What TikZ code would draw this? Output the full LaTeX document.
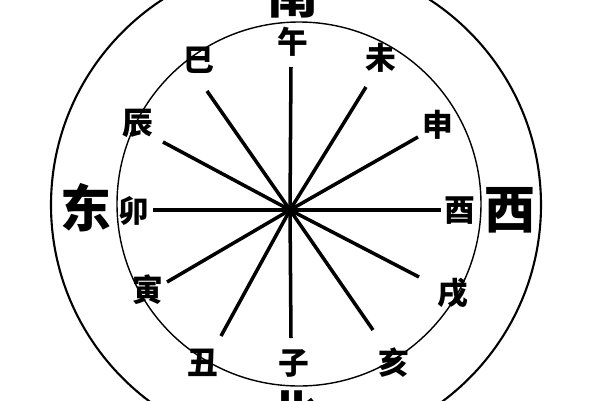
\documentclass[tikz,border=0pt]{standalone}
\usepackage{fontspec}
\newfontfamily\cjk{Noto Sans CJK SC}
\tikzset{
  branch/.style={font=\cjk\bfseries\fontsize{17.5}{17.5}\selectfont, inner sep=0pt},
  compass/.style={font=\cjk\bfseries\fontsize{29}{29}\selectfont, inner sep=0pt},
  spoke/.style={line width=2pt}
}
\begin{document}
\begin{tikzpicture}[x=0.02cm, y=-0.02cm]
            \useasboundingbox (0,0) rectangle (600,400);
            \clip (0,0) rectangle (600,400);
            \fill[white] (0,0) rectangle (600,400);
            \draw[line width=1.2pt] (296,205) circle[radius=245];
            \draw[line width=0.8pt] (299,204) circle[radius=182];

            \coordinate (o) at (290,210);
            \coordinate (e-wu) at (291,67);
            \coordinate (e-wei) at (366,87);
            \coordinate (e-shen) at (418,137);
            \coordinate (e-you) at (441,210);
            \coordinate (e-xu) at (419,277);
            \coordinate (e-hai) at (373,330);
            \coordinate (e-zi) at (291,338);
            \coordinate (e-chou) at (221,336);
            \coordinate (e-yin) at (167,282);
            \coordinate (e-mao) at (153,210);
            \coordinate (e-chen) at (163,142);
            \coordinate (e-si) at (207,91);

            \draw[spoke] (o) -- (e-wu);
            \draw[spoke] (o) -- (e-wei);
            \draw[spoke] (o) -- (e-shen);
            \draw[spoke] (o) -- (e-you);
            \draw[spoke] (o) -- (e-xu);
            \draw[spoke] (o) -- (e-hai);
            \draw[spoke] (o) -- (e-zi);
            \draw[spoke] (o) -- (e-chou);
            \draw[spoke] (o) -- (e-yin);
            \draw[spoke] (o) -- (e-mao);
            \draw[spoke] (o) -- (e-chen);
            \draw[spoke] (o) -- (e-si);

            \node[branch] (wu) at (293,42) {午};
            \node[branch] (wei) at (381,58) {未};
            \node[branch] (shen) at (438,125) {申};
            \node[branch] (you) at (460,211) {酉};
            \node[branch] (xu) at (453,293) {戌};
            \node[branch] (hai) at (394,363) {亥};
            \node[branch] (zi) at (294,363) {子};
            \node[branch] (chou) at (203,363) {丑};
            \node[branch] (yin) at (148,290) {寅};
            \node[branch] (mao) at (134,211) {卯};
            \node[branch] (chen) at (138,123) {辰};
            \node[branch] (si) at (199,60) {巳};

            \node[compass] (nan) at (293,-6) {南};
            \node[compass] (bei) at (293,414) {北};
            \node[compass] (dong) at (86,208) {东};
            \node[compass] (xi) at (510,210) {西};
\end{tikzpicture}
\end{document}
